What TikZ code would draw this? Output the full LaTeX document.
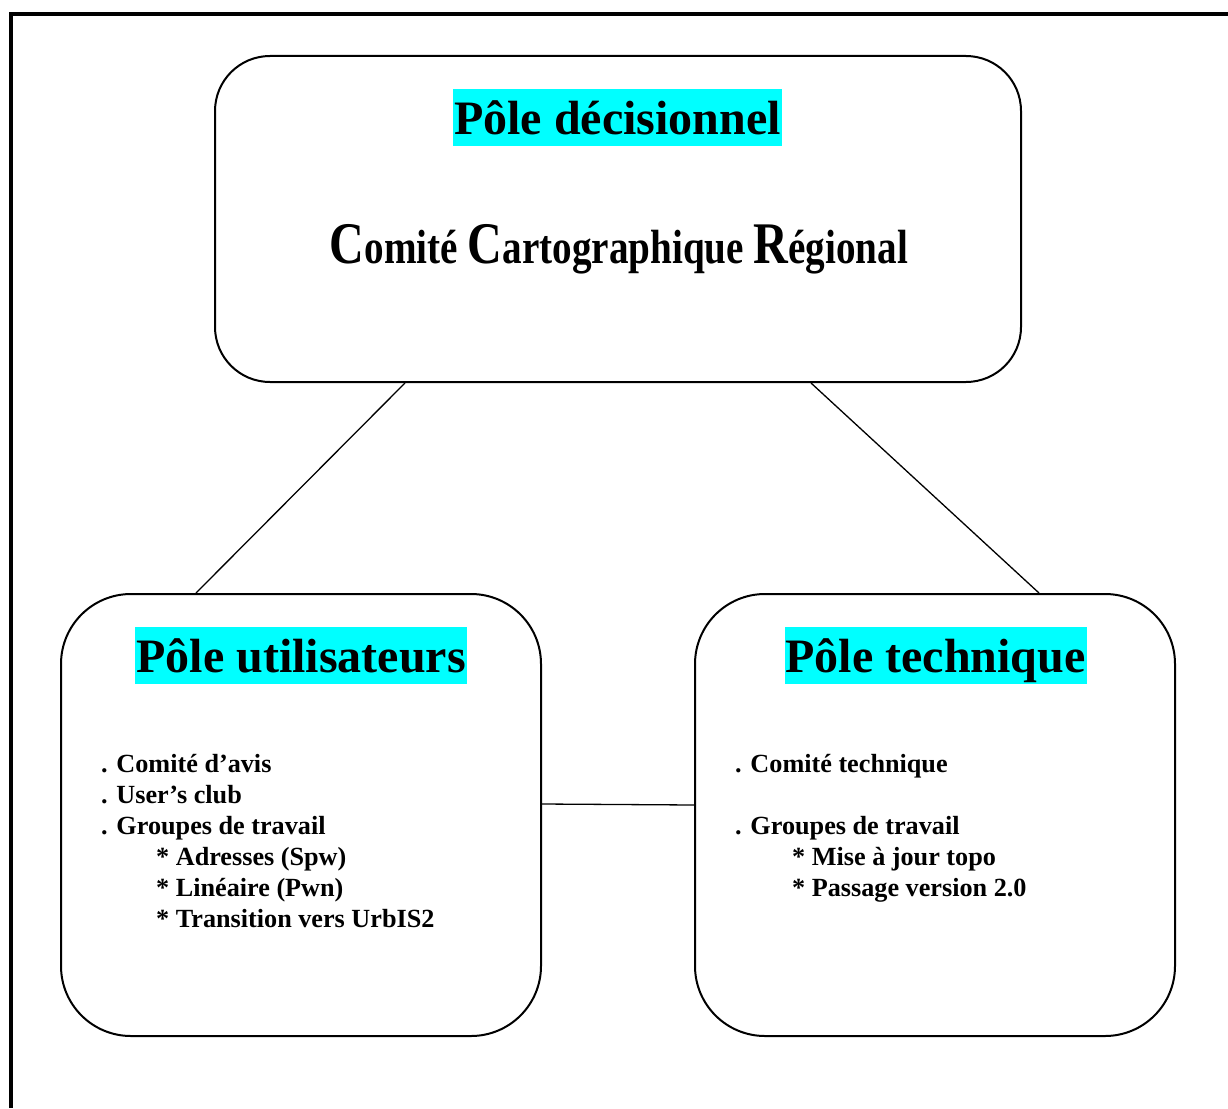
\documentclass[tikz,border=0pt]{standalone}
\usepackage{fontspec}
\setmainfont{Liberation Serif}
\usepackage{graphicx}
\definecolor{hl}{RGB}{0,255,255}
\begin{document}
\begin{tikzpicture}[x=1pt,y=-1pt,
  pole/.style={draw=black,line width=2pt,inner sep=0pt,rectangle},
  title/.style={fill=hl,inner xsep=1pt,inner ysep=0pt,anchor=base,
    font=\fontsize{48}{56}\selectfont\bfseries,text height=45pt,text depth=12pt},
  item/.style={anchor=base west,inner sep=0pt,font=\fontsize{26.2}{31}\selectfont\bfseries},
  link/.style={line width=1.3pt}]
\useasboundingbox (0,0) rectangle (1228,1108);
% outer frame
\draw[line width=4pt] (11,1108) -- (11,14) -- (1228,14);
% boxes
\node[pole,rounded corners=55pt,minimum width=806pt,minimum height=326pt] (top) at (618,219) {};
\node[pole,rounded corners=70pt,minimum width=480pt,minimum height=442pt] (left) at (301,815) {};
\node[pole,rounded corners=70pt,minimum width=480pt,minimum height=442pt] (right) at (935,815) {};
% connectors
\draw[link] ([xshift=191pt]top.south west) -- ([xshift=136pt]left.north west);
\draw[link] ([xshift=-211pt]top.south east) -- ([xshift=345pt]right.north west);
\draw[link] ([yshift=11pt]left.east) -- ([yshift=10pt]right.west);
% titles
\node[title] (t1) at (617.5,134) {Pôle décisionnel};
\node[anchor=base,inner sep=0pt] (ccr) at (619,263) {\resizebox{578pt}{\height}{\bfseries\fontsize{48}{56}\selectfont{\fontsize{59}{60}\selectfont C}omité {\fontsize{59}{60}\selectfont C}artographique {\fontsize{59}{60}\selectfont R}égional}};
\node[title] (t2) at (301,672) {Pôle utilisateurs};
\node[title] (t3) at (935.5,672) {Pôle technique};
% left items
\node[item] (l1) at (101,772) {. Comité d’avis};
\node[item] (l2) at (101,803) {. User’s club};
\node[item] (l3) at (101,834) {. Groupes de travail};
\node[item] (l4) at (156,865) {* Adresses (Spw)};
\node[item] (l5) at (156,896) {* Linéaire (Pwn)};
\node[item] (l6) at (156,927) {* Transition vers UrbIS2};
% right items
\node[item] (r1) at (735,772) {. Comité technique};
\node[item] (r2) at (735,834) {. Groupes de travail};
\node[item] (r3) at (792,865) {* Mise à jour topo};
\node[item] (r4) at (792,896) {* Passage version 2.0};
\end{tikzpicture}
\end{document}
